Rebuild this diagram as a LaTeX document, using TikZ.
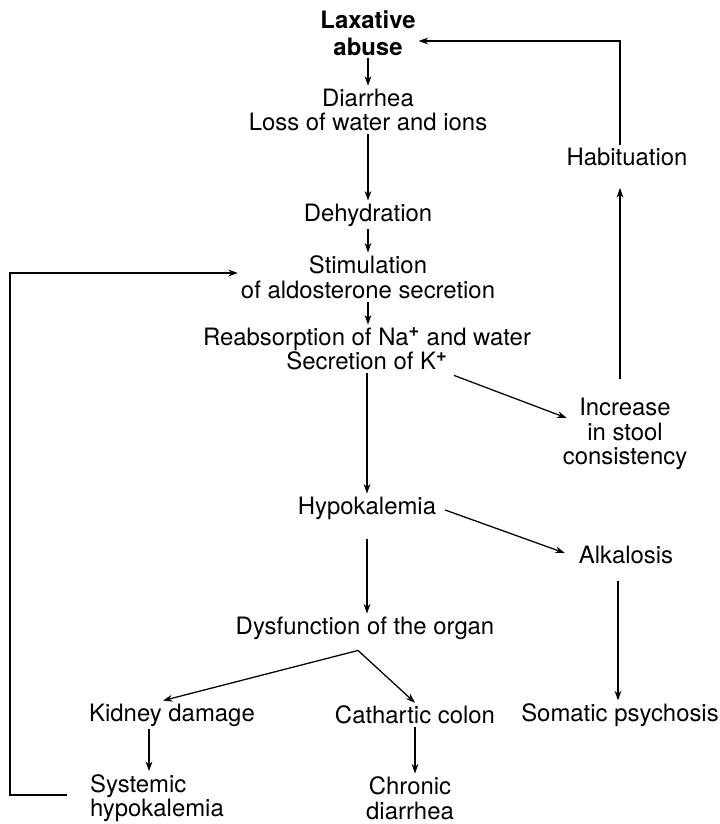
\documentclass[tikz,border=0pt]{standalone}
\usepackage{fontspec}
\setmainfont{TeX Gyre Heros}
\usetikzlibrary{arrows.meta,calc}
\newcommand{\supplus}{\textsuperscript{\fontsize{13}{13}\selectfont\bfseries +}}

\begin{document}
\begin{tikzpicture}[x=0.025cm,y=-0.025cm,
		lbl/.style={font=\fontsize{17}{17.5}\selectfont, align=center, inner sep=2pt},
		boldlbl/.style={lbl, font=\fontsize{17}{19}\selectfont\bfseries},
		arr/.style={-{Stealth[length=2.4mm,width=1.7mm]}, line width=0.9pt}]
		\useasboundingbox (0,0) rectangle (720,824);
		% main chain
		\node[boldlbl] (lax) at (368,33) {Laxative\\abuse};
		\node[lbl] (dia) at (368,110) {Diarrhea\\Loss of water and ions};
		\node[lbl] (deh) at (368,215) {Dehydration};
		\node[lbl] (stim) at (368,277) {Stimulation\\of aldosterone secretion};
		\node[lbl] (reab) at (367,349) {Reabsorption of Na\supplus{} and water\\Secretion of K\supplus};
		\node[lbl] (hypo) at (367,508) {Hypokalemia};
		\node[lbl] (dys) at (365,628) {Dysfunction of the organ};
		\node[lbl] (kid) at (172,715) {Kidney damage};
		\node[lbl] (cath) at (415,715) {Cathartic colon};
		\node[lbl, anchor=west, align=left] (sys) at (87,798) {Systemic\\hypokalemia};
		\node[lbl] (chr) at (410,798) {Chronic\\diarrhea};
		% right column
		\node[lbl] (hab) at (627,157) {Habituation};
		\node[lbl] (inc) at (625,434) {Increase\\in stool\\consistency};
		\node[lbl] (alk) at (626,555) {Alkalosis};
		\node[lbl] (som) at (620,715) {Somatic psychosis};
		\coordinate (split) at ($(dys.south)+(-7,8)$);
		\coordinate (back) at (10,0);

		\draw[arr] (lax) -- (dia);
		\draw[arr] (dia) -- (deh);
		\draw[arr] (deh) -- (stim);
		\draw[arr] (stim.south) -- (stim.south |- reab.north);
		\draw[arr] (reab.south) -- (reab.south |- hypo.north);
		\draw[arr, shorten <=0.42cm] (hypo.south) -- (hypo.south |- dys.north);
		\draw[arr] (split) -- ([xshift=-0.225cm]kid.north);
		\draw[arr] (split) -- (cath.north);
		\draw[arr] ([xshift=-0.575cm]kid.south) -- ([xshift=-0.575cm]kid.south |- sys.north);
		\draw[arr] (cath.south) -- (cath.south |- chr.north);
		\draw[arr] ($(reab.south east)+(-80,2)$) -- ($(inc.west)+(7,-16)$);
		\draw[arr] ($(hypo.east)+(6,2)$) -- ($(alk.west)+(-11,-2)$);
		\draw[arr] ([xshift=-0.2cm,yshift=-0.35cm]alk.south) -- ([xshift=-0.2cm]alk.south |- som.north);
		\draw[arr] ([xshift=-0.125cm,yshift=0.39cm]inc.north) -- ([xshift=-0.125cm,yshift=-0.475cm]inc.north |- hab.south);
		\draw[arr] ([xshift=-0.125cm]hab.north -| inc.north) |- ([yshift=-0.2cm]lax.east);
		% feedback loop
		\draw[arr] ([xshift=-0.5cm,yshift=0.075cm]sys.west) -| ([yshift=0.1cm]back |- stim.west) -- ([yshift=0.1cm]stim.west);
	\end{tikzpicture}
\end{document}
